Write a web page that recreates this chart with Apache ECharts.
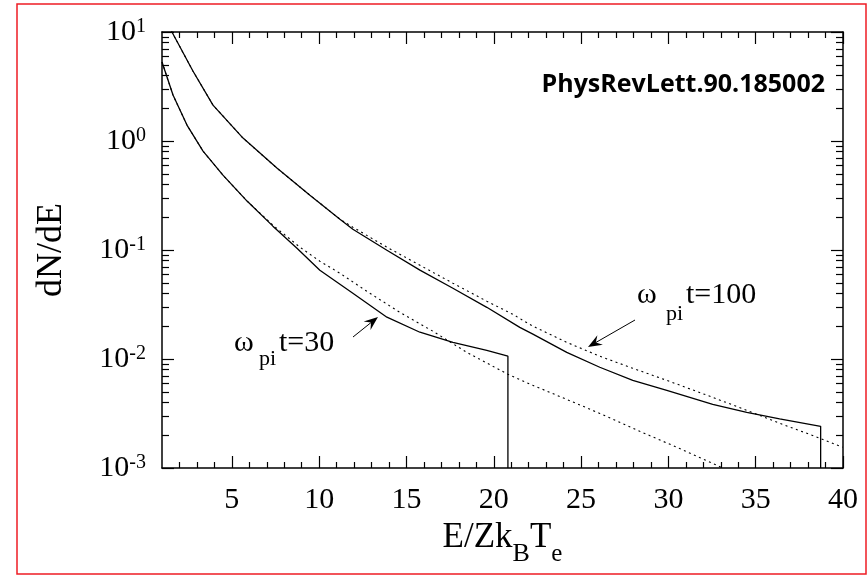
<!DOCTYPE html>
<html><head><meta charset="utf-8">
<script src="https://cdn.jsdelivr.net/npm/echarts@6/dist/echarts.min.js"></script>
<style>html,body{margin:0;padding:0;background:#fff}.c{width:868px;height:576px}</style>
</head><body><div class="c" id="c"></div>
<script>
// ---- data ----
const xTickLabels = [5, 10, 15, 20, 25, 30, 35, 40];
const yTickLabels = [0.001, 0.01, 0.1, 1, 10];

// omega_pi t = 100, simulation (solid)
const e100 = [1.46, 1.57, 2.77, 3.92, 5.64, 7.58, 9.47, 11.19, 11.93, 13.88, 15.77, 17.66, 19.60, 21.49, 22.24, 24.18, 26.07, 27.96, 29.91, 32.54, 34.49, 36.37, 38.72, 38.72];
const n100 = [11.35, 10, 4.385, 2.136, 1.063, 0.564, 0.3185, 0.1918, 0.1552, 0.0996, 0.0653, 0.0446, 0.0298, 0.0195, 0.0169, 0.0115, 0.0084, 0.00637, 0.00516, 0.00384, 0.00324, 0.00282, 0.00241, 0.001];
// omega_pi t = 100, fit (dotted)
const e100fit = [1.46, 1.57, 2.77, 3.92, 5.64, 7.58, 9.47, 11.19, 11.93, 13.88, 15.77, 17.66, 19.60, 21.09, 22.24, 24.18, 26.07, 27.96, 29.91, 32.54, 34.49, 36.37, 38.26, 39.98];
const n100fit = [11.35, 10, 4.385, 2.136, 1.063, 0.564, 0.3185, 0.1918, 0.162, 0.1061, 0.0725, 0.0496, 0.0339, 0.0257, 0.0200, 0.0142, 0.0106, 0.00822, 0.00637, 0.00445, 0.00338, 0.00257, 0.00199, 0.00155];
// omega_pi t = 30, simulation (solid)
const e30 = [1.0, 1.63, 2.43, 3.35, 4.49, 5.87, 7.35, 8.73, 10.04, 11.93, 13.88, 15.77, 17.66, 19.60, 20.81, 20.81];
const n30 = [5.30, 2.64, 1.40, 0.808, 0.486, 0.281, 0.1655, 0.1039, 0.0652, 0.0401, 0.0242, 0.0176, 0.0142, 0.0120, 0.0106, 0.001];
// omega_pi t = 30, fit (dotted)
const e30fit = [1.0, 1.63, 2.43, 3.35, 4.49, 5.87, 7.35, 8.90, 10.04, 11.19, 12.73, 14.62, 16.51, 18.46, 20.81, 22.24, 24.18, 26.07, 28.36, 30.65, 33.11];
const n30fit = [5.30, 2.64, 1.40, 0.808, 0.486, 0.281, 0.169, 0.1061, 0.0789, 0.0612, 0.0418, 0.0268, 0.0180, 0.0115, 0.00724, 0.00573, 0.00426, 0.00317, 0.00217, 0.00151, 0.001];

const zip = (a, b) => a.map((v, i) => [v, b[i]]);

// minor tick values (2..9 x 10^k on the log axis, integers on x)
const yMinor = [];
for (let k = -3; k <= 0; k++) for (let m = 2; m <= 9; m++) yMinor.push(+(m * Math.pow(10, k)).toPrecision(3));
const xMinor = [];
for (let v = 2; v <= 39; v++) if (v % 5 !== 0) xMinor.push(v);

const serif = 'Liberation Serif';

const line = (show) => ({show: show, onZero: false, lineStyle: {color: '#000', width: 1.5}});
const tick = (len, vals) => ({show: true, inside: true, length: len, customValues: vals, lineStyle: {color: '#000', width: 1.2}});
const xAx = (pos, len, vals, sl) => ({type: 'value', min: 1, max: 40, position: pos, axisLine: line(sl), axisTick: tick(len, vals), splitLine: {show: false}, axisLabel: {show: false}});
const yAx = (pos, len, vals, sl) => ({type: 'log', logBase: 10, min: 0.001, max: 10, position: pos, axisLine: line(sl), axisTick: tick(len, vals), splitLine: {show: false}, axisLabel: {show: false}});

function arrow(tx, ty, hx, hy) {
  const dx = hx - tx, dy = hy - ty, L = Math.hypot(dx, dy);
  const ux = dx / L, uy = dy / L, px = -uy, py = ux;
  const len = 14, w = 5.5, notch = 9;
  const bx = hx - ux * len, by = hy - uy * len;
  const nx = hx - ux * notch, ny = hy - uy * notch;
  return [
    {type: 'line', shape: {x1: tx, y1: ty, x2: nx, y2: ny}, style: {stroke: '#000', lineWidth: 1}},
    {type: 'polygon', shape: {points: [[hx, hy], [bx + px * w, by + py * w], [nx, ny], [bx - px * w, by - py * w]]}, style: {fill: '#000'}}
  ];
}
function label(x, baseline, parts) {
  return parts.map(p => ({
    type: 'text', x: x + p[2], y: baseline + p[3] - 0.34 * p[1],
    style: {text: p[0], font: p[1] + 'px "' + serif + '"', fill: '#000', verticalAlign: 'middle'}
  }));
}

const xAxes = [xAx('bottom', 6, xMinor, true), xAx('bottom', 12, xTickLabels, false), xAx('top', 6, xMinor, true), xAx('top', 12, xTickLabels, false)];
const yAxes = [yAx('left', 12, yTickLabels, true), yAx('left', 7, yMinor, false), yAx('right', 12, yTickLabels, true), yAx('right', 7, yMinor, false)];

Object.assign(xAxes[1], {
  axisLabel: {show: true, customValues: xTickLabels, margin: 17, color: '#000', fontFamily: serif, fontSize: 30},
  name: '{n|E/Zk}{b|B}{n|T}{e|e}', nameLocation: 'middle', nameGap: 42,
  nameTextStyle: {rich: {
    n: {fontFamily: serif, fontSize: 35, color: '#000', lineHeight: 36, verticalAlign: 'top'},
    b: {fontFamily: serif, fontSize: 26, color: '#000', lineHeight: 47, verticalAlign: 'bottom'},
    e: {fontFamily: serif, fontSize: 25, color: '#000', lineHeight: 47, verticalAlign: 'bottom'}
  }}
});
Object.assign(yAxes[0], {
  axisLabel: {show: true, customValues: yTickLabels, margin: 16, color: '#000',
    formatter: v => '{b|10}{s|' + Math.round(Math.log10(v)) + '}',
    rich: {
      b: {fontFamily: serif, fontSize: 30, color: '#000', lineHeight: 30},
      s: {fontFamily: serif, fontSize: 20, color: '#000', lineHeight: 15, verticalAlign: 'top'}
    }},
  name: 'dN/dE', nameLocation: 'middle', nameGap: 92, nameRotate: 90,
  nameTextStyle: {fontFamily: serif, fontSize: 36, color: '#000'}
});

const chart = echarts.init(document.getElementById('c'));
chart.setOption({
  animation: false,
  title: {text: ' ', left: 0, top: 0, textStyle: {fontSize: 12}},
  grid: {left: 162, top: 32, right: 25, bottom: 108},
  xAxis: xAxes,
  yAxis: yAxes,
  series: [
    {type: 'line', data: zip(e100fit, n100fit), lineStyle: {color: '#000', width: 1.1, type: [2, 3.5]}},
    {type: 'line', data: zip(e30fit, n30fit), lineStyle: {color: '#000', width: 1.1, type: [2, 3.5]}},
    {type: 'line', data: zip(e100, n100), lineStyle: {color: '#000', width: 1.3}},
    {type: 'line', data: zip(e30, n30), lineStyle: {color: '#000', width: 1.3}}
  ].map(s => Object.assign(s, {xAxisIndex: 0, yAxisIndex: 0, showSymbol: false, clip: true})),
  graphic: [
    {type: 'rect', shape: {x: 17, y: 4, width: 849, height: 570}, style: {fill: 'none', stroke: '#ee1c24', lineWidth: 1.5}},
    {type: 'text', x: 825, y: 85, style: {text: 'PhysRevLett.90.185002', font: 'bold 25px "Open Sans"', fill: '#000', align: 'right', verticalAlign: 'middle'}},
    ...label(234, 353, [['ω', 30, 0, 0], ['pi', 22, 25, 14], ['t=30', 30, 45, 0]]),
    ...label(637, 305, [['ω', 30, 0, 0], ['pi', 22, 29, 17], ['t=100', 30, 49, 0]]),
    ...arrow(353, 337, 378, 317),
    ...arrow(635, 320, 588, 347)
  ]
});
</script>
</body></html>
